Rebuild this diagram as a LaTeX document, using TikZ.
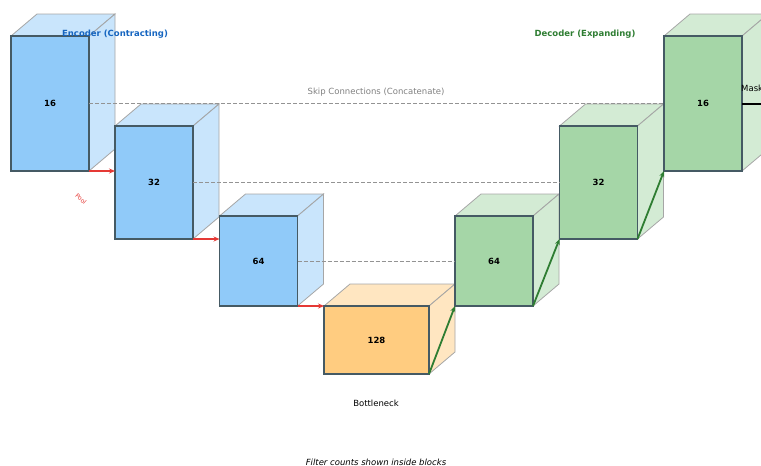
\documentclass[tikz,border=0pt]{standalone}
\usepackage{fontspec}
\setmainfont{DejaVu Sans}
\usetikzlibrary{arrows.meta,backgrounds}
\definecolor{encfront}{HTML}{90CAF9}
\definecolor{encside}{HTML}{BBDEFB}
\definecolor{decfront}{HTML}{A5D6A7}
\definecolor{decside}{HTML}{C8E6C9}
\definecolor{botfront}{HTML}{FFCC80}
\definecolor{botside}{HTML}{FFE0B2}
\definecolor{edgegray}{HTML}{455A64}
\definecolor{enctext}{HTML}{1565C0}
\definecolor{dectext}{HTML}{2E7D32}
\definecolor{poolred}{HTML}{E53935}
\begin{document}
\begin{tikzpicture}[x=1pt,y=-1pt,
    font=\fontsize{8.5}{10}\selectfont,
    front/.style={draw=edgegray, line width=1.5pt, inner sep=0pt, outer sep=0pt,
                  minimum width=78pt, font=\fontsize{8.5}{10}\selectfont\bfseries},
    side/.style={draw=gray!70, line width=0.8pt, fill opacity=0.8},
    skip/.style={dash pattern=on 4pt off 2pt, gray!85, line width=0.8pt},
    pool/.style={-{Stealth[length=6pt,width=5pt]}, poolred, line width=1.8pt},
    upconv/.style={-{Stealth[length=6pt,width=5pt]}, dectext, line width=1.8pt}]
    \useasboundingbox (0,0) rectangle (761,466);

    % front faces
    \node[front, fill=encfront, minimum height=135pt] (e1) at (50,103.5) {16};
    \node[front, fill=encfront, minimum height=113pt] (e2) at (154,182.5) {32};
    \node[front, fill=encfront, minimum height=90pt]  (e3) at (258.5,261) {64};
    \node[front, fill=botfront, minimum height=68pt, minimum width=105pt] (bn) at (376.5,340) {128};
    \node[front, fill=decfront, minimum height=90pt]  (d3) at (494,261) {64};
    \node[front, fill=decfront, minimum height=113pt] (d2) at (598.5,182.5) {32};
    \node[front, fill=decfront, minimum height=135pt] (d1) at (703,103.5) {16};

    % top and right faces
    \begin{scope}[on background layer]
        \foreach \n/\c in {e1/encside, e2/encside, e3/encside, bn/botside, d3/decside, d2/decside, d1/decside} {
            \draw[side, fill=\c] (\n.north west) -- ++(26pt,22pt)
                -- ([xshift=26pt,yshift=22pt]\n.north east) -- (\n.north east) -- cycle;
            \draw[side, fill=\c] (\n.north east) -- ++(26pt,22pt)
                -- ([xshift=26pt,yshift=22pt]\n.south east) -- (\n.south east) -- cycle;
        }
    \end{scope}

    % skip connections
    \draw[skip] (e1.east) -- (d1.west);
    \draw[skip] (e2.east) -- (d2.west);
    \draw[skip] (e3.east) -- (d3.west);
    \node[gray] (skiplbl) at (376,92) {Skip Connections (Concatenate)};

    % pooling
    \draw[pool] (e1.south east) -- (e1.south east -| e2.west);
    \draw[pool] (e2.south east) -- (e2.south east -| e3.west);
    \draw[pool] (e3.south east) -- (e3.south east -| bn.west);
    \node[poolred, rotate=-42, inner sep=0pt, font=\fontsize{6}{7}\selectfont] (poollbl) at (81,199) {Pool};

    % up-convolutions
    \draw[upconv] (bn.south east) -- (d3.south west);
    \draw[upconv] (d3.south east) -- (d2.south west);
    \draw[upconv] (d2.south east) -- (d1.south west);

    % output
    \coordinate (maskend) at ([xshift=30pt]d1.east);
    \draw[-{Stealth[length=7pt,width=6pt]}, line width=2pt] (d1.east) -- (maskend);
    \node[anchor=west, inner sep=0pt] (masklbl) at (741,88) {Mask};

    % titles
    \node[enctext, font=\fontsize{8.5}{10}\selectfont\bfseries] (enclbl) at (115,34) {Encoder (Contracting)};
    \node[dectext, font=\fontsize{8.5}{10}\selectfont\bfseries] (declbl) at (585,34) {Decoder (Expanding)};
    \node (botlbl) at (376,403) {Bottleneck};
    \node[font=\fontsize{8.5}{10}\selectfont\itshape] (notelbl) at (376,462) {Filter counts shown inside blocks};
\end{tikzpicture}
\end{document}
